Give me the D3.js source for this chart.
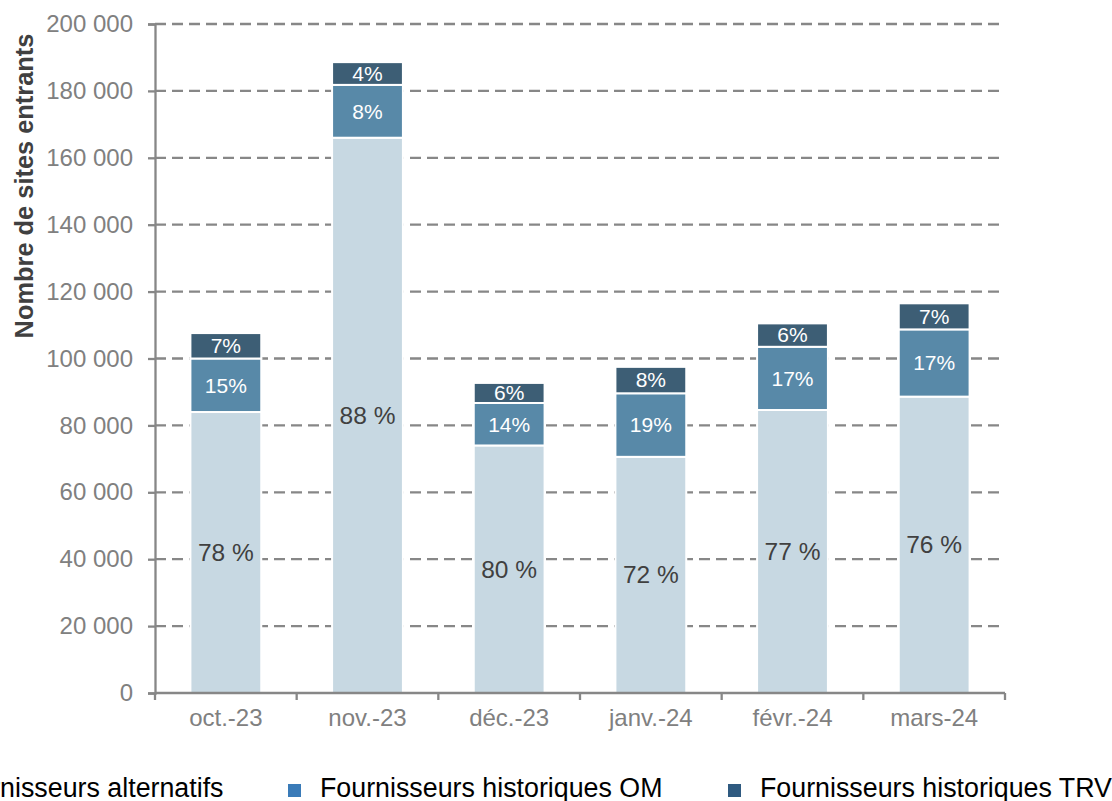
<!DOCTYPE html>
<html>
<head>
<meta charset="utf-8">
<script src="https://cdn.jsdelivr.net/npm/d3@7"></script>
<style>
  body { margin: 0; background: #fff; }
  svg { display: block; font-family: Arial, "Liberation Sans", sans-serif; }
</style>
</head>
<body>
<script>
// Months on the x axis
var months = ["oct.-23", "nov.-23", "déc.-23", "janv.-24", "févr.-24", "mars-24"];

// Number of entering sites per supplier type
var alternatifs = [84000, 166000, 74000, 70600, 84600, 88600];
var historiquesOM = [16000, 15800, 12700, 19000, 18900, 20100];
var historiquesTRV = [7600, 6800, 6000, 7900, 7000, 7800];

// Share labels printed in each segment
var labelsAlt = ["78 %", "88 %", "80 %", "72 %", "77 %", "76 %"];
var labelsOM = ["15%", "8%", "14%", "19%", "17%", "17%"];
var labelsTRV = ["7%", "4%", "6%", "8%", "6%", "7%"];

var yTicks = [0, 20000, 40000, 60000, 80000, 100000, 120000, 140000, 160000, 180000, 200000];
var seriesNames = ["Fournisseurs alternatifs", "Fournisseurs historiques OM", "Fournisseurs historiques TRV"];

var width = 1112;
var height = 801;

var barColors = ["#c7d8e2", "#5889a8", "#3d5e75"];
var legendColors = ["#c7d8e2", "#3a7bb8", "#2f5a80"];
var labelColors = ["#404040", "#ffffff", "#ffffff"];
var labelSizes = [24.5, 21, 21];

var fr = d3.formatLocale({ decimal: ",", thousands: " ", grouping: [3], currency: ["", " €"] });
var fmt = fr.format(",");

// Build table for the stack
var table = months.map(function (m, i) {
    return { month: m, alt: alternatifs[i], om: historiquesOM[i], trv: historiquesTRV[i], i: i };
});
var keys = ["alt", "om", "trv"];
var labelSets = [labelsAlt, labelsOM, labelsTRV];
var stacked = d3.stack().keys(keys)(table);

var x = d3.scaleBand()
    .domain(months)
    .range([155, 1005])
    .paddingInner(0.5)
    .paddingOuter(0.25);

var y = d3.scaleLinear()
    .domain([0, 200000])
    .range([693, 24]);

var svg = d3.select("body")
    .append("svg")
    .attr("width", width)
    .attr("height", height);

// Dashed gridlines
svg.append("g")
    .selectAll("line")
    .data(yTicks.filter(function (d) { return d > 0; }))
    .enter()
    .append("line")
    .attr("x1", 155)
    .attr("x2", 1005)
    .attr("y1", function (d) { return y(d); })
    .attr("y2", function (d) { return y(d); })
    .attr("stroke", "#878787")
    .attr("stroke-width", 2.3)
    .attr("stroke-dasharray", "11,6");

// Stacked bars
var layers = svg.append("g")
    .selectAll("g")
    .data(stacked)
    .enter()
    .append("g")
    .attr("fill", function (d, k) { return barColors[k]; });

layers.selectAll("rect")
    .data(function (d) { return d; })
    .enter()
    .append("rect")
    .attr("x", function (d) { return x(d.data.month); })
    .attr("width", x.bandwidth())
    .attr("y", function (d) { return y(d[1]); })
    .attr("height", function (d) { return y(d[0]) - y(d[1]); })
    .attr("stroke", "#ffffff")
    .attr("stroke-width", 2);

// Segment labels
stacked.forEach(function (layer, k) {
    svg.append("g")
        .selectAll("text")
        .data(layer)
        .enter()
        .append("text")
        .attr("x", function (d) { return x(d.data.month) + x.bandwidth() / 2; })
        .attr("y", function (d) { return (y(d[0]) + y(d[1])) / 2; })
        .attr("dy", "0.35em")
        .attr("text-anchor", "middle")
        .attr("fill", labelColors[k])
        .style("font-size", labelSizes[k] + "px")
        .text(function (d) { return labelSets[k][d.data.i]; });
});

// Y axis
var yAxis = svg.append("g")
    .attr("transform", "translate(155,0)")
    .call(d3.axisLeft(y).tickValues(yTicks).tickFormat(fmt).tickSize(7).tickPadding(15));
yAxis.select(".domain").attr("stroke", "#878787").attr("stroke-width", 2.3);
yAxis.selectAll(".tick line").attr("stroke", "#878787").attr("stroke-width", 2.3);
yAxis.selectAll(".tick text")
    .attr("fill", "#808080")
    .style("font-size", "24px")
    .style("font-family", "Arial, 'Liberation Sans', sans-serif");

// X axis
var xAxis = svg.append("g")
    .attr("transform", "translate(0,693)")
    .call(d3.axisBottom(x).tickSize(0).tickPadding(16));
xAxis.select(".domain").remove();
xAxis.selectAll(".tick text")
    .attr("fill", "#808080")
    .style("font-size", "24px")
    .style("font-family", "Arial, 'Liberation Sans', sans-serif");

svg.append("line")
    .attr("x1", x.range()[0])
    .attr("x2", x.range()[1])
    .attr("y1", y(0))
    .attr("y2", y(0))
    .attr("stroke", "#878787")
    .attr("stroke-width", 2.3);

// category boundary ticks
var bounds = months.map(function (m) { return x(m) + x.bandwidth() / 2 - x.step() / 2; });
bounds.push(bounds[bounds.length - 1] + x.step());
svg.append("g")
    .selectAll("line")
    .data(bounds)
    .enter()
    .append("line")
    .attr("x1", function (d) { return d; })
    .attr("x2", function (d) { return d; })
    .attr("y1", y(0))
    .attr("y2", y(0) + 7)
    .attr("stroke", "#878787")
    .attr("stroke-width", 2.3);

// Y axis title
svg.append("text")
    .attr("transform", "translate(33,186) rotate(-90)")
    .attr("text-anchor", "middle")
    .attr("fill", "#404040")
    .style("font-size", "25.4px")
    .style("font-weight", "bold")
    .text("Nombre de sites entrants");

// Legend (first item runs off the left edge like the original)
var legendX = [-55, 320, 760];
var legend = svg.append("g")
    .selectAll("g")
    .data(seriesNames)
    .enter()
    .append("g")
    .attr("transform", function (d, i) { return "translate(" + legendX[i] + ",0)"; });

legend.append("rect")
    .attr("x", -32)
    .attr("y", 784)
    .attr("width", 13)
    .attr("height", 13)
    .attr("fill", function (d, i) { return legendColors[i]; });

legend.append("text")
    .attr("x", 0)
    .attr("y", 797)
    .attr("fill", "#000")
    .style("font-size", "26.8px")
    .text(function (d) { return d; });
</script>
</body>
</html>
